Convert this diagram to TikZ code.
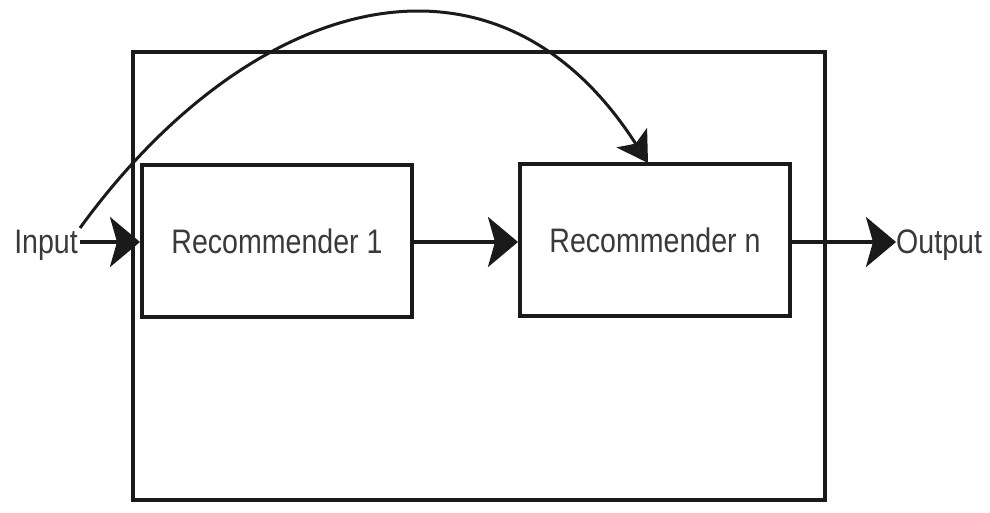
\documentclass[tikz,border=0pt]{standalone}
\usepackage{fontspec}
\setmainfont{Liberation Sans}
\newfontfamily\labelfont[FakeStretch=0.84]{Liberation Sans}
\usetikzlibrary{arrows.meta}
\definecolor{ink}{HTML}{1A1A1A}
\definecolor{txt}{HTML}{3A3A3A}
\begin{document}
\begin{tikzpicture}[x=1pt,y=-1pt,
  frame/.style={draw=ink,line width=4pt},
  recbox/.style={draw=ink,line width=4pt,minimum width=270pt,minimum height=152pt,inner sep=0pt,
    font=\labelfont\fontsize{34}{38}\selectfont,text=txt},
  lbl/.style={font=\labelfont\fontsize{34}{38}\selectfont,text=txt,inner sep=0pt},
  flow/.style={draw=ink,line width=4pt,-{Stealth[length=30pt,width=50pt,inset=7pt]}},
  skip/.style={draw=ink,line width=3pt,-{Stealth[length=30pt,width=36pt,inset=7pt]}}]
\useasboundingbox (0,0) rectangle (990,513);
% enclosing frame
\node[frame,minimum width=692pt,minimum height=448pt,inner sep=0pt] (outer) at (479,276) {};
% recommenders
\node[recbox] (r1) at (277,241) {\raisebox{-3pt}{Recommender 1}};
\node[recbox] (rn) at (655,240) {\raisebox{-3pt}{Recommender n}};
% input and output labels
\node[lbl,anchor=east] (in) at (78,245) {Input};
\node[lbl,anchor=west] (out) at (896,245) {Output};
% main chain
\coordinate (inend) at (80,242);
\draw[flow] (inend) -- (r1.west |- inend);
\draw[flow] (r1.east |- inend) -- (rn.west |- inend);
\draw[flow] (rn.east |- inend) -- (out.west |- inend);
% skip connection over the first stage
\coordinate (skipstart) at (80,228);
\coordinate (skipend) at (648,163);
\draw[skip] (skipstart) .. controls (250,-6) and (495,-76) .. (skipend);
\end{tikzpicture}
\end{document}
